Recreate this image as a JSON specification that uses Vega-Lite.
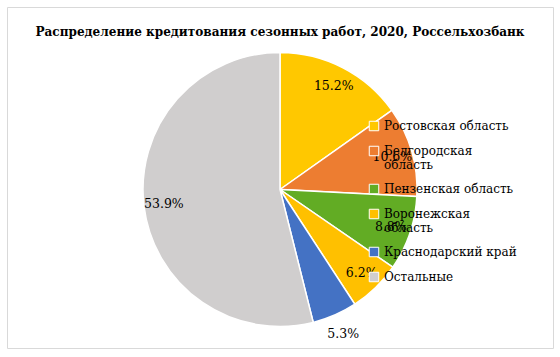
{
  "$schema": "https://vega.github.io/schema/vega-lite/v6.json",
  "autosize": "none",
  "width": 546,
  "height": 341,
  "padding": {"left": 7, "top": 7, "right": 7, "bottom": 9},
  "background": "#ffffff",
  "view": {"stroke": "#d9d9d9", "strokeWidth": 1},
  "title": {
    "text": "Распределение кредитования сезонных работ, 2020, Россельхозбанк",
    "font": "DejaVu Serif Condensed, DejaVu Serif",
    "fontSize": 13.4,
    "fontWeight": "bold",
    "color": "#000000",
    "anchor": "middle",
    "baseline": "middle",
    "offset": -38
  },
  "data": {
    "values": [
      {"region": "Ростовская область", "share": 15.2, "i": 1},
      {"region": "Белгородская область", "share": 10.6, "i": 2},
      {"region": "Пензенская область", "share": 8.8, "i": 3},
      {"region": "Воронежская область", "share": 6.2, "i": 4},
      {"region": "Краснодарский край", "share": 5.3, "i": 5},
      {"region": "Остальные", "share": 53.9, "i": 6}
    ]
  },
  "transform": [
    {"calculate": "format(datum.share, '.1f') + '%'", "as": "label"}
  ],
  "encoding": {
    "theta": {"field": "share", "type": "quantitative", "stack": true},
    "order": {"field": "i", "type": "quantitative"}
  },
  "layer": [
    {
      "mark": {"type": "arc", "outerRadius": 137, "stroke": "#ffffff", "strokeWidth": 1.5, "y": {"expr": "height/2 + 12"}},
      "encoding": {
        "color": {
          "field": "region",
          "type": "nominal",
          "sort": null,
          "scale": {
            "domain": ["Ростовская область", "Белгородская область", "Пензенская область", "Воронежская область", "Краснодарский край", "Остальные"],
            "range": ["#FFC800", "#ED7D31", "#62AC24", "#FFC000", "#4472C4", "#D0CECE"]
          },
          "legend": {
            "title": null,
            "orient": "none",
            "legendX": 361,
            "legendY": 113,
            "padding": 0,
            "symbolType": "square",
            "symbolSize": 90,
            "symbolStrokeColor": "#ffffff",
            "symbolStrokeWidth": 1,
            "labelFont": "DejaVu Serif",
            "labelFontSize": 12,
            "labelColor": "#000000",
            "labelOffset": 4,
            "labelLimit": 300,
            "rowPadding": 11,
            "labelExpr": "datum.label === 'Белгородская область' ? ['Белгородская', 'область'] : datum.label === 'Воронежская область' ? ['Воронежская', 'область'] : datum.label"
          }
        }
      }
    },
    {
      "mark": {"type": "text", "radius": 117, "font": "DejaVu Serif", "fontSize": 12.5, "color": "#000000", "y": {"expr": "height/2 + 12"}},
      "encoding": {
        "text": {"condition": {"test": "datum.region === 'Краснодарский край'", "value": ""}, "field": "label", "type": "nominal"}
      }
    },
    {
      "mark": {"type": "text", "radius": 158, "font": "DejaVu Serif", "fontSize": 12.5, "color": "#000000", "y": {"expr": "height/2 + 12"}},
      "encoding": {
        "text": {"condition": {"test": "datum.region !== 'Краснодарский край'", "value": ""}, "field": "label", "type": "nominal"}
      }
    }
  ]
}
